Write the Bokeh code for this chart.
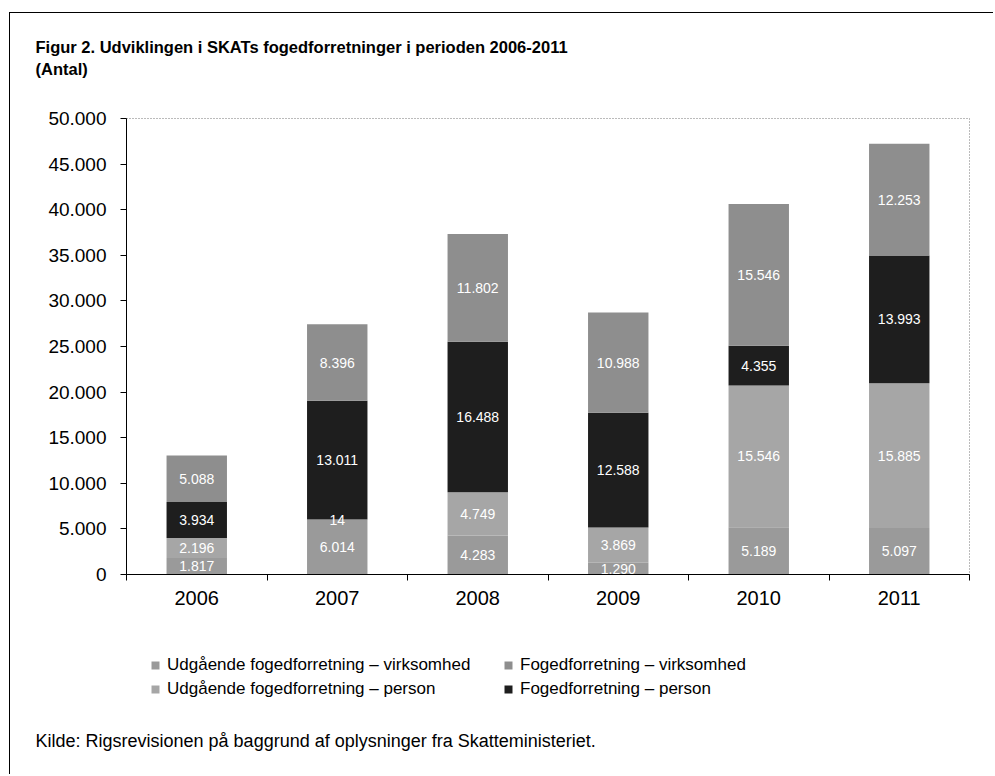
from bokeh.plotting import figure
from bokeh.layouts import column
from bokeh.models import (ColumnDataSource, Range1d, FixedTicker, LinearAxis, Title,
                          Legend, LegendItem, InlineStyleSheet)
from bokeh.core.properties import value
from bokeh.embed import file_html
from bokeh.resources import INLINE

# ---------------- data ----------------
years = ["2006", "2007", "2008", "2009", "2010", "2011"]
udg_virk = [1817, 6014, 4283, 1290, 5189, 5097]        # Udgående fogedforretning – virksomhed
udg_person = [2196, 14, 4749, 3869, 15546, 15885]       # Udgående fogedforretning – person
foged_person = [3934, 13011, 16488, 12588, 4355, 13993]  # Fogedforretning – person
foged_virk = [5088, 8396, 11802, 10988, 15546, 12253]    # Fogedforretning – virksomhed

series_names = ["Udgående fogedforretning – virksomhed",
                "Udgående fogedforretning – person",
                "Fogedforretning – person",
                "Fogedforretning – virksomhed"]
series_values = [udg_virk, udg_person, foged_person, foged_virk]
series_colors = ["#9a9a9a", "#a6a6a6", "#1e1e1e", "#8e8e8e"]

y_ticks = [0, 5000, 10000, 15000, 20000, 25000, 30000, 35000, 40000, 45000, 50000]
y_tick_labels = ["0", "5.000", "10.000", "15.000", "20.000", "25.000", "30.000",
                 "35.000", "40.000", "45.000", "50.000"]

title_1 = "Figur 2. Udviklingen i SKATs fogedforretninger i perioden 2006-2011"
title_2 = "(Antal)"
source_text = "Kilde:  Rigsrevisionen på baggrund af oplysninger fra Skatteministeriet."

FONT = "Liberation Sans"
W = 993
MAIN_H, BOT_H = 630, 144
LEFT = 126


def fmt(v):
    return f"{v:,}".replace(",", ".")

# ---------------- main chart ----------------
p = figure(width=W, height=MAIN_H, output_backend="svg", toolbar_location=None,
           x_range=Range1d(0, len(years)), y_range=Range1d(0, 50000),
           min_border_left=LEFT, min_border_right=24, min_border_top=118, min_border_bottom=56,
           x_axis_type=None, y_axis_type=None)
p.background_fill_color = "white"
p.border_fill_color = "white"
p.outline_line_color = "#777777"
p.outline_line_dash = "1 2"
p.outline_line_width = 1

centers = [i + 0.5 for i in range(len(years))]
bounds = [float(i) for i in range(len(years) + 1)]

data = {"x": centers}
for k, vals in enumerate(series_values):
    data[f"s{k}"] = vals
src = ColumnDataSource(data)
p.vbar_stack([f"s{k}" for k in range(4)], x="x", width=0.43, source=src,
             color=series_colors, line_color=None)

lx, ly, lt = [], [], []
for i in range(len(years)):
    base = 0
    for vals in series_values:
        v = vals[i]
        lx.append(centers[i]); ly.append(base + v / 2); lt.append(fmt(v))
        base += v
p.text(x=lx, y=ly, text=lt, text_color="white", text_align="center",
       text_baseline="middle", text_font=value(FONT), text_font_size="14px")

yaxis = LinearAxis(ticker=FixedTicker(ticks=y_ticks),
                   major_label_overrides={t: l for t, l in zip(y_ticks, y_tick_labels)})
yaxis.axis_line_color = "black"
yaxis.major_tick_line_color = "black"
yaxis.major_tick_out = 6
yaxis.major_tick_in = 0
yaxis.minor_tick_line_color = None
yaxis.major_label_standoff = 14
yaxis.major_label_text_font = FONT
yaxis.major_label_text_font_size = "19px"
yaxis.major_label_text_color = "black"
p.add_layout(yaxis, "left")

xaxis = LinearAxis(ticker=FixedTicker(ticks=centers, minor_ticks=bounds),
                   major_label_overrides={c: y for c, y in zip(centers, years)})
xaxis.axis_line_color = "black"
xaxis.major_tick_line_color = None
xaxis.major_tick_out = 0
xaxis.major_tick_in = 0
xaxis.minor_tick_line_color = "black"
xaxis.minor_tick_out = 6
xaxis.minor_tick_in = 0
xaxis.major_label_standoff = 10
xaxis.major_label_text_font = FONT
xaxis.major_label_text_font_size = "20px"
xaxis.major_label_text_color = "black"
p.add_layout(xaxis, "below")

p.xgrid.visible = False
p.ygrid.ticker = FixedTicker(ticks=y_ticks[1:-1])
p.ygrid.grid_line_color = "black"
p.ygrid.grid_line_width = 1

# titles in the "above" panel: first added sits nearest the frame
title_style = dict(align="left", offset=35 - LEFT, vertical_align="middle",
                   text_font=FONT, text_font_size="16.5px", text_font_style="bold",
                   text_color="black")
p.add_layout(Title(text="\u00a0", standoff=18, **title_style), "above")   # spacer
p.add_layout(Title(text=title_2, standoff=4, **title_style), "above")
p.add_layout(Title(text=title_1, standoff=0, **title_style), "above")

# ---------------- legend + source panel ----------------
bot = figure(width=W, height=BOT_H, output_backend="svg", toolbar_location=None,
             x_range=Range1d(0, 1), y_range=Range1d(0, 1),
             min_border_left=0, min_border_right=0, min_border_top=0, min_border_bottom=0,
             x_axis_type=None, y_axis_type=None)
bot.outline_line_color = None
bot.background_fill_color = "white"
bot.border_fill_color = "white"
bot.xgrid.visible = False
bot.ygrid.visible = False

swatches = [bot.vbar(x=[0.5], top=[0], width=0, color=c, line_color=None)
            for c in series_colors]
items = [LegendItem(label=series_names[k], renderers=[swatches[k]]) for k in [0, 1, 3, 2]]
lg = Legend(items=items, location=(150 - LEFT, 7), orientation="vertical", ncols=2,
            padding=0, margin=0, spacing=4, border_line_color=None,
            background_fill_alpha=0, glyph_width=10, glyph_height=10,
            label_width=332, label_height=19,
            label_standoff=7, label_text_font=FONT, label_text_font_size="17px",
            label_text_color="black", label_text_baseline="middle")
bot.add_layout(lg, "center")
bot.add_layout(Title(text=source_text, align="left", offset=35 - LEFT, standoff=46,
                     vertical_align="middle", text_font=FONT, text_font_size="18px",
                     text_font_style="normal", text_color="black"), "below")

layout = column(p, bot, spacing=0)
layout.stylesheets = [InlineStyleSheet(css=""":host { position: relative; }
:host::after { content: ''; position: absolute; left: 9px; top: 12px;
  width: calc(100% - 9px); height: calc(100% - 12px);
  border-left: 1.5px solid black; border-top: 1.5px solid black;
  box-sizing: border-box; pointer-events: none; z-index: 10; }""")]

open("out.html", "w").write(file_html(layout, INLINE))
